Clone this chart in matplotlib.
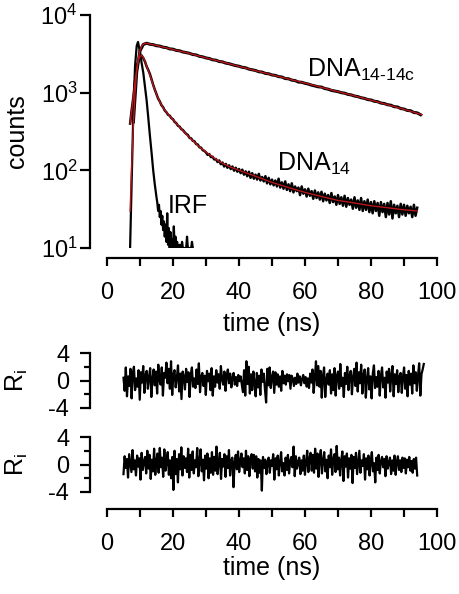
import numpy as np
import matplotlib
matplotlib.use("Agg")
import matplotlib.pyplot as plt
from matplotlib.ticker import MultipleLocator, FixedLocator, NullLocator

plt.rcParams['font.family'] = ['Liberation Sans', 'DejaVu Sans']
plt.rcParams['mathtext.fontset'] = 'custom'
plt.rcParams['mathtext.rm'] = 'Liberation Sans'
plt.rcParams['mathtext.it'] = 'Liberation Sans:italic'
plt.rcParams['mathtext.bf'] = 'Liberation Sans:bold'
plt.rcParams['axes.unicode_minus'] = False

# --- data ---
# IRF (counts vs time, ns)
irf_t = [7.0, 7.5, 8.0, 8.5, 9.0, 9.4, 10.0, 10.5, 11.0, 11.5, 12.0, 12.5, 13.0, 13.5, 14.0,
         14.5, 15.0, 15.25, 15.5, 15.75, 16.0, 16.25, 16.5, 16.75, 17.0, 17.25, 17.5, 17.75,
         18.0, 18.25, 18.5, 18.75, 19.0, 19.25, 19.5, 19.75, 20.0, 20.25, 20.5, 20.75, 21.0,
         21.25, 21.5, 21.75, 22.0, 22.25, 22.5, 22.75, 23.0, 23.5, 24.0, 24.25, 24.5, 25.0,
         25.5, 25.75, 26.0]
irf_counts = [10, 80, 600, 2200, 4000, 4500, 3300, 2400, 1800, 1200, 800, 480, 280, 170, 100,
              65, 45, 38, 30, 36, 25, 30, 20, 26, 17, 22, 14, 20,
              12, 28, 11, 18, 10, 16, 10, 13, 10, 19, 10, 14, 10,
              12, 10, 10, 11, 10, 10, 12, 10, 10, 10, 14, 10, 10,
              10, 12, 10]

# DNA14-14c decay (1 ns channels from 8 ns) and fit
d1414_t0, d1414_t1 = 8.0, 95.0
d1414_counts = [420, 1850, 3450, 4180, 4330, 4200, 4150, 4020, 3980, 3850, 3800, 3660, 3630, 3500,
                3460, 3340, 3280, 3210, 3100, 3060, 2940, 2890, 2800, 2750, 2650, 2620, 2520, 2490,
                2400, 2360, 2290, 2230, 2190, 2120, 2090, 2010, 1970, 1930, 1860, 1840, 1770, 1750,
                1690, 1670, 1610, 1590, 1520, 1510, 1450, 1430, 1370, 1360, 1320, 1290, 1250, 1220,
                1190, 1180, 1130, 1110, 1070, 1050, 1030, 1000, 985, 950, 935, 905, 890, 860, 845,
                815, 805, 775, 765, 735, 725, 700, 690, 660, 655, 625, 615, 590, 585, 555, 550, 520]
fit1414_t = [7.0, 7.5, 8.0, 8.5, 9.0, 9.5, 10.0, 10.5, 11.0, 11.5, 12.0, 15, 20, 25, 30, 35, 40,
             45, 50, 55, 60, 65, 70, 75, 80, 85, 90, 95.5]
fit1414_counts = [30, 120, 400, 1000, 1900, 2800, 3500, 3950, 4200, 4300, 4320, 4050, 3600, 3200,
                  2800, 2480, 2180, 1920, 1700, 1500, 1330, 1170, 1030, 910, 800, 700, 610, 520]

# DNA14 decay (0.5 ns channels from 7 ns) and fit
d14_t0, d14_t1 = 7.0, 94.0
d14_counts = [400, 610, 880, 1420, 1980, 2620, 2930, 3010, 2780, 2520, 2180, 1960, 1740, 1480,
              1260, 1090, 960, 840, 770, 690, 650, 590, 560, 520, 505, 470, 455, 420, 405, 375,
              365, 340, 330, 310, 295, 285, 262, 258, 240, 236, 218, 215, 198, 196, 182, 178,
              170, 158, 162, 148, 150, 138, 140, 128, 134, 120, 126, 112, 121, 108, 116, 104,
              112, 99, 108, 96, 104, 92, 102, 88, 97, 84, 96, 80, 92, 78, 88, 76, 90, 74, 82,
              72, 84, 68, 80, 66, 76, 64, 74, 62, 78, 60, 70, 58, 72, 56, 66, 54, 68, 52, 62,
              54, 60, 48, 62, 50, 57, 46, 58, 47, 54, 43, 55, 44, 52, 42, 53, 40, 50, 41, 48,
              38, 51, 39, 46, 36, 48, 37, 45, 35, 47, 34, 44, 36, 42, 32, 45, 33, 41, 31, 44,
              30, 40, 31, 42, 29, 39, 28, 40, 30, 38, 26, 39, 29, 37, 25, 38, 27, 40, 24, 36,
              28, 35, 25, 37, 27, 36, 26, 35, 28, 34, 25, 36, 26, 33]
fit14_t = [7.0, 7.5, 8.0, 8.5, 9.0, 9.5, 10.0, 10.5, 11.0, 11.5, 12, 13, 14, 15, 16, 17, 18, 19,
           20, 22, 25, 28, 31, 34, 37, 40, 45, 50, 55, 60, 65, 70, 75, 80, 85, 90, 94]
fit14_counts = [400, 600, 900, 1400, 2000, 2600, 2950, 3000, 2850, 2550, 2200, 1700, 1250, 950,
                760, 640, 560, 500, 450, 360, 265, 200, 160, 130, 112, 100, 84, 70, 60, 52, 46,
                41, 38, 35, 33, 31, 30]

# weighted residuals
res1_t0, res1_t1 = 5.0, 96.0
res1 = [0.4, -1.5, 1.9, -2.3, 0.6, -0.8, 1.7, -2.6, 1.0, 2.0, -1.4, 0.3, -0.9, 1.5, -2.8, 1.2, -0.3, 2.1, -1.8, 0.8,
        1.4, -1.2, 0.5, 1.8, -2.4, 0.2, 1.6, -0.7, 1.3, -1.9, 2.3, 0.1, -0.6, 1.9, -2.2, 1.1, 0.4, 2.6, -0.4, 1.7,
        -1.2, 2.8, -2.1, 0.9, 1.5, -1.0, 0.4, 2.2, -1.6, 1.0, -2.7, 1.3, 0.6, -1.3, 1.7, -0.2, 1.2, -2.4, 0.8, 1.9,
        -0.9, 0.3, -1.1, 1.6, -0.5, 2.5, -1.7, 0.5, 1.1, -0.8, 0.7, -2.1, 1.4, -0.1, 1.0, -1.4, 1.8, -2.2, 0.6, -0.9,
        1.5, -0.3, 0.9, -1.2, 2.1, 0.2, -0.6, 1.3, -1.5, 0.7, 1.6, -0.4, 1.0, -1.0, 0.4, 1.1, -0.6, 0.5, -0.8, 0.8,
        -0.1, 0.6, -0.5, -1.7, 1.5, -2.2, 2.8, -0.5, 2.0, -1.9, 0.9, -1.4, 1.3, -0.3, -2.3, 1.1, -1.0, 0.7, -2.1, 1.6,
        -0.2, 1.0, -1.3, -3.2, 1.7, -0.7, 1.9, -1.1, 0.5, 1.3, -1.8, 1.2, -0.6, 0.9, -0.9, 0.6, -1.5, 1.4, -0.4, 0.7,
        -0.6, 0.9, -0.1, 0.8, -1.2, 0.7, 0.3, -0.8, 0.4, -0.5, 1.0, -0.3, 0.6, -0.7, 0.2, 0.8, -0.4, 0.5, -0.9, 0.3,
        -1.1, 1.0, -0.3, 1.6, -1.8, 0.3, 2.8, -0.7, 2.1, -0.9, 1.4, -2.5, 0.6, 1.9, -2.4, 0.2, 1.0, -0.6, 1.5, -1.9,
        0.9, -1.4, 1.8, -2.2, 0.7, 1.3, -1.2, 2.4, -0.8, 0.4, -2.4, 1.1, -0.5, 2.0, -1.4, 0.8, 1.4, -2.0, 0.5, 1.7,
        -0.8, 2.6, -1.6, 1.2, -0.4, 2.3, -1.9, 0.8, 1.6, -2.5, 0.3, 1.8, -1.3, 0.6, -2.6, 1.0, 2.2, -1.1, 0.5, -0.9,
        1.4, -2.2, 0.7, 1.9, -1.0, 0.4, -2.5, 1.3, -0.3, 1.7, -1.6, 0.8, 2.1, -2.3, 0.9, -0.5, 1.5, -1.7, 0.6, 1.1,
        -1.8, 0.5, 1.9, -1.2, 0.8, -2.3, 1.4, -0.6, 1.0, -1.9, 2.2, -0.4, 1.2, -1.5, 0.7, 2.5, -2.2, 0.9, 1.6, 2.4]
res2_t0, res2_t1 = 5.0, 94.0
res2 = [-1.4, 1.2, -0.5, 0.8, -1.9, 1.5, 0.2, -1.1, 2.1, -0.7, 0.6, -1.6, 1.3, -0.3, 0.9, -2.2, 1.7, -0.8, 0.4, 1.1,
        -1.3, 2.0, -0.6, 1.4, -2.1, 0.7, -1.0, 2.3, -1.5, 0.5, 1.6, -1.2, 2.4, -0.4, 1.0, -1.8, 2.2, -0.9, 0.3, 1.8,
        -1.5, 0.6, -2.0, 1.1, -3.7, 2.0, -1.4, 0.8, -2.6, 1.5, -0.7, 2.5, -1.6, 1.2, -0.5, 0.9, -1.1, 2.3, -1.9, 1.4,
        -0.8, 1.9, -1.3, 0.6, -0.4, 2.4, -1.7, 0.5, 2.2, -1.0, 0.7, -2.3, 1.3, -0.6, 1.6, -2.0, 0.9, -1.2, 1.8, -1.5,
        1.1, -0.9, 2.6, -1.4, 0.4, 1.7, -2.1, 0.8, -0.3, 1.5, -1.8, 1.2, -0.5, 2.1, -1.6, 0.6, 1.0, -3.3, 0.3, 1.4,
        -0.7, 1.9, -1.1, 0.5, 1.6, -0.4, 0.9, -1.3, 2.0, -0.8, 1.2, -1.7, 0.7, 1.5, -0.6, 1.4, -1.0, 1.2, -1.9, 0.8,
        -1.2, 0.6, -3.8, 1.1, -0.5, 0.7, -1.4, 0.3, 1.0, -1.2, 0.6, -0.2, 1.5, -2.2, 0.9, -0.7, 1.3, -1.6, 0.4, 1.8,
        -1.0, 0.2, -1.6, 1.0, -0.8, 1.4, -1.3, 0.5, 1.1, -0.4, 2.6, -1.7, 1.2, -0.6, 0.3, 1.0, -1.4, 0.6, -0.9, 1.3,
        -1.5, 0.4, 2.0, -1.1, 0.8, 1.7, -0.9, 1.4, -1.2, 2.3, -0.6, 1.6, -1.8, 0.9, 2.1, -1.3, 0.5, 1.8, -1.0, 0.7,
        -2.0, 1.3, -0.4, 2.2, -1.5, 0.8, 1.5, -1.1, 2.7, -0.7, 1.0, -1.6, 0.6, 1.9, -2.4, 1.2, -0.3, 1.6, -1.9, 0.9,
        -0.6, 1.4, -2.7, 1.1, -0.5, 1.7, -1.4, 0.3, 2.0, -1.2, 0.6, -0.2, 1.5, -2.2, 0.9, -0.7, 1.3, -1.6, 0.4, 1.8,
        -1.0, 0.2, -2.6, 1.0, -0.8, 1.4, -1.3, 0.5, 1.1, -0.4, 0.8, -1.7, 1.2, -0.6, 0.3, 1.0, -1.4, 0.6, -0.9, 1.3,
        -1.5, 0.4, 1.2, -0.8, 0.6, -1.1, 1.0, -0.5, 0.9, -1.3, 0.7, -0.4, 1.1, -0.9, 0.5, -1.2, 0.8, -0.6, 1.0, -1.6]

RED = "#b8161b"
W, H = 460, 594
FS_TICK = 17
FS_LAB = 18

fig = plt.figure(figsize=(W / 100, H / 100), dpi=100)


def px_axes(left, top, right, bottom):
    return fig.add_axes([left / W, 1 - bottom / H, (right - left) / W, (bottom - top) / H])


def style(ax, xaxis=True, xoff=0):
    for s in ("top", "right"):
        ax.spines[s].set_visible(False)
    ax.spines["left"].set_position(("outward", 17 * 0.72))
    ax.spines["left"].set_linewidth(1.6)
    ax.tick_params(axis="y", which="major", direction="out", length=7, width=1.6, labelsize=FS_TICK)
    ax.tick_params(axis="y", which="minor", direction="out", length=4, width=1.6)
    if xaxis:
        ax.spines["bottom"].set_position(("outward", xoff * 0.72))
        ax.spines["bottom"].set_linewidth(1.6)
        ax.xaxis.set_major_locator(MultipleLocator(20))
        ax.xaxis.set_minor_locator(MultipleLocator(10))
        ax.tick_params(axis="x", which="both", direction="out", length=6, width=1.6,
                       labelsize=FS_TICK, pad=11)
    else:
        ax.spines["bottom"].set_visible(False)
        ax.tick_params(axis="x", which="both", bottom=False, labelbottom=False)
    ax.set_xlim(0, 100)
    ax.patch.set_visible(False)


# decay panel
ax = px_axes(107, 15, 437, 248)
style(ax, xaxis=True, xoff=10)
ax.set_yscale("log")
ax.set_ylim(10, 1e4)
ax.yaxis.set_minor_locator(NullLocator())
ax.tick_params(axis="y", which="major", pad=2)

t14 = np.linspace(d14_t0, d14_t1, len(d14_counts))
t1414 = np.linspace(d1414_t0, d1414_t1, len(d1414_counts))
ax.plot(irf_t, irf_counts, color="black", lw=1.6)
ax.plot(t14, d14_counts, color="black", lw=1.8)
ax.plot(t1414, d1414_counts, color="black", lw=2.2)
ax.plot(fit14_t, fit14_counts, color=RED, lw=1.0)
ax.plot(fit1414_t, fit1414_counts, color=RED, lw=1.0)

ax.text(60.5, 1600, "DNA$_{\\mathregular{14\u201014c}}$", fontsize=FS_LAB)
ax.text(51.5, 100, "DNA$_{\\mathregular{14}}$", fontsize=FS_LAB)
ax.text(18.5, 28, "IRF", fontsize=FS_LAB)

ax.set_xlabel("time (ns)", fontsize=FS_LAB, labelpad=6)
ax.set_ylabel("counts", fontsize=FS_LAB, va="center")
ax.yaxis.set_label_coords(-0.273, 0.5)

# residual panels
for top, bot, t0, t1, r, has_x in [(353, 408, res1_t0, res1_t1, res1, False),
                                    (437, 492, res2_t0, res2_t1, res2, True)]:
    axr = px_axes(107, top, 437, bot)
    style(axr, xaxis=has_x, xoff=17)
    axr.set_ylim(-4, 4)
    axr.yaxis.set_major_locator(FixedLocator([-4, 0, 4]))
    axr.yaxis.set_minor_locator(FixedLocator([-2, 2]))
    axr.tick_params(axis="y", which="major", pad=8)
    tr = np.linspace(t0, t1, len(r))
    axr.plot(tr, r, color="black", lw=1.6)
    axr.set_ylabel("R$_\\mathregular{i}$", fontsize=FS_LAB, va="center")
    axr.yaxis.set_label_coords(-0.273, 0.5)
    if has_x:
        axr.set_xlabel("time (ns)", fontsize=FS_LAB, labelpad=1)

fig.savefig("out.png", dpi=100)
